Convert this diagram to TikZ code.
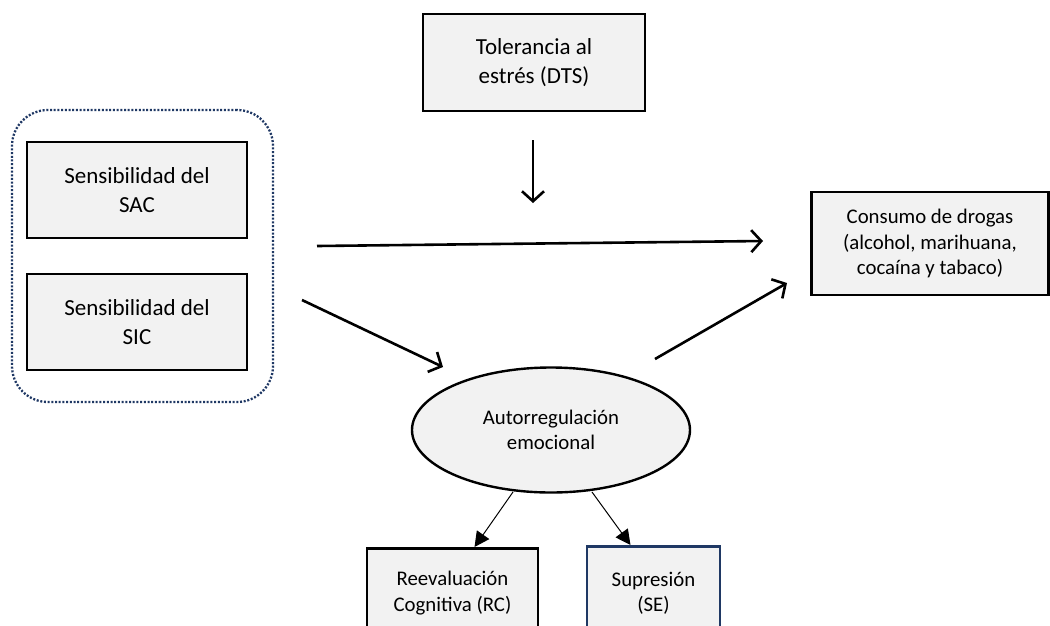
\documentclass[tikz,border=0pt]{standalone}
\usepackage{fontspec}
\setmainfont{Carlito}
\usetikzlibrary{arrows.meta,shapes.geometric}
\definecolor{boxfill}{HTML}{F2F2F2}
\definecolor{navy}{HTML}{1F3864}
\tikzset{
  bigbox/.style={draw=black, fill=boxfill, line width=2.6pt, align=center, inner sep=0pt,
    font=\fontsize{23}{29}\selectfont},
  smallbox/.style={draw=black, fill=boxfill, line width=2.6pt, align=center, inner sep=0pt,
    font=\fontsize{20.8}{25.5}\selectfont},
  bigarrow/.style={line width=2.6pt, -{Straight Barb[length=10pt,width=22pt,line width=2.6pt]}},
  smallarrow/.style={line width=1pt, -{Triangle[length=15pt,width=15pt]}},
}
\begin{document}
\begin{tikzpicture}[x=1pt,y=-1pt]
\useasboundingbox (0,0) rectangle (1050,625);
\clip (0,0) rectangle (1050,625);
\fill[white] (0,0) rectangle (1050,625);

% grouping frame
\node (group) [draw=navy, line width=2.3pt, dash pattern=on 2pt off 1.7pt, rounded corners=36pt,
  minimum width=261pt, minimum height=292pt, inner sep=0pt] at (142.5,256) {};

\node (sac) [bigbox, minimum width=220pt, minimum height=96pt] at (137,190) {Sensibilidad del\\SAC};
\node (sic) [bigbox, minimum width=220pt, minimum height=96pt] at (137,322) {Sensibilidad del\\SIC};
\node (dts) [bigbox, minimum width=222pt, minimum height=97pt] at (534,62.5) {Tolerancia al\\estrés (DTS)};
\node (cons) [smallbox, minimum width=237pt, minimum height=103pt] at (930,243.5) {Consumo de drogas\\(alcohol, marihuana,\\cocaína y tabaco)};
\node (auto) [ellipse, draw=black, fill=boxfill, line width=2.4pt, inner sep=0pt,
  minimum width=278pt, minimum height=125pt, align=center, font=\fontsize{20.8}{25.5}\selectfont] at (551,430) {Autorregulación\\emocional};
\node (rc) [smallbox, minimum width=171pt, minimum height=90pt, anchor=north] at (452.5,547) {Reevaluación\\Cognitiva (RC)};
\node (se) [smallbox, draw=navy, minimum width=133pt, minimum height=94pt, anchor=north] at (653.5,545) {Supresión\\(SE)};

% free ends of the connectors
\coordinate (d1) at (533,140);
\coordinate (d2) at (533,203);
\coordinate (h1) at (317,246);
\coordinate (h2) at (763,241);
\coordinate (s1) at (302,300);
\coordinate (s2) at (443,367);
\coordinate (c1) at (655,359);
\coordinate (c2) at (787,283);
\coordinate (r1) at (513,492);
\coordinate (p1) at (592,492);

\draw[bigarrow] (d1) -- (d2);
\draw[bigarrow] (h1) -- (h2);
\draw[bigarrow] (s1) -- (s2);
\draw[bigarrow] (c1) -- (c2);

\draw[smallarrow] (r1) -- ([xshift=22pt]rc.north);
\draw[smallarrow] (p1) -- ([xshift=-23pt]se.north);
\end{tikzpicture}
\end{document}
